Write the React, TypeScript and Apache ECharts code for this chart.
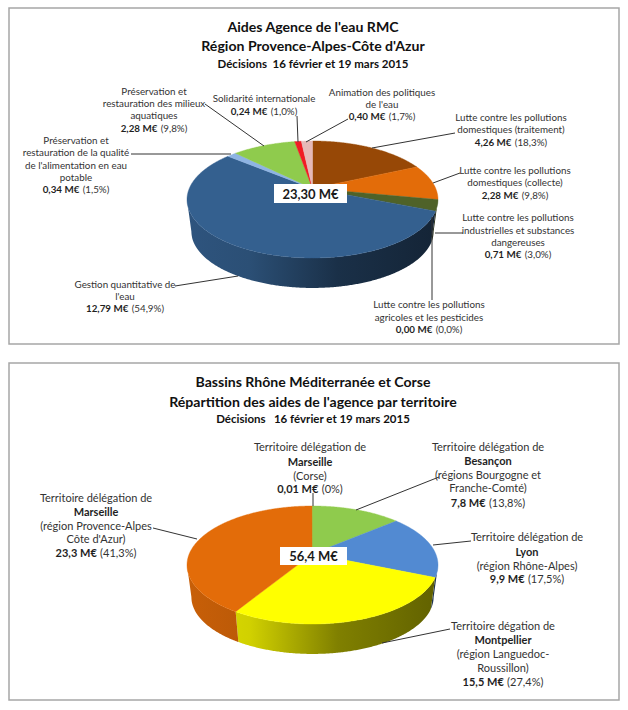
import React, { useEffect, useRef } from "react";
import * as echarts from "echarts";

const FONT = "Lato, 'Open Sans', sans-serif";

// ---- data ----
const aidCategories = [
  "Lutte contre les pollutions domestiques (traitement)",
  "Lutte contre les pollutions domestiques (collecte)",
  "Lutte contre les pollutions industrielles et substances dangereuses",
  "Lutte contre les pollutions agricoles et les pesticides",
  "Gestion quantitative de l'eau",
  "Préservation et restauration de la qualité de l'alimentation en eau potable",
  "Préservation et restauration des milieux aquatiques",
  "Solidarité internationale",
  "Animation des politiques de l'eau",
];
const aidValues = [4.26, 2.28, 0.71, 0.0, 12.79, 0.34, 2.28, 0.24, 0.4];
const aidAmounts = ["4,26 M€", "2,28 M€", "0,71 M€", "0,00 M€", "12,79 M€", "0,34 M€", "2,28 M€", "0,24 M€", "0,40 M€"];
const aidShares = ["(18,3%)", "(9,8%)", "(3,0%)", "(0,0%)", "(54,9%)", "(1,5%)", "(9,8%)", "(1,0%)", "(1,7%)"];
const aidTotal = "23,30 M€";

const territoryCategories = [
  "Besançon (régions Bourgogne et Franche-Comté)",
  "Lyon (région Rhône-Alpes)",
  "Montpellier (région Languedoc-Roussillon)",
  "Marseille (région Provence-Alpes Côte d'Azur)",
  "Marseille (Corse)",
];
const territoryValues = [7.8, 9.9, 15.5, 23.3, 0.01];
const territoryAmounts = ["7,8 M€", "9,9 M€", "15,5 M€", "23,3 M€", "0,01 M€"];
const territoryShares = ["(13,8%)", "(17,5%)", "(27,4%)", "(41,3%)", "(0%)"];
const territoryTotal = "56,4 M€";

// ---- styles & layout ----
const aidColors = ["#974806", "#e36c09", "#4f6228", "#7f7f7f", "#34608f", "#8eb4e3", "#8fcb4d", "#f01c24", "#e6b9b8"];
const territoryColors = ["#8fcb4d", "#528ad2", "#ffff00", "#e36c09", "#8fcb4d"];

const aidPie = { cx: 312.5, cy: 199.5, rx: 125.5, ry: 58.5, scale: 0.965, drop: 32 };
const territoryPie = { cx: 312.5, cy: 565, rx: 125.5, ry: 59, scale: 0.965, drop: 32 };
const PERSPECTIVE = 0.19;

type Line = { t?: string; b?: string; amount?: number };
type Block = { x: number; ys: number[]; lines: Line[]; leader: number[][] };

const aidBlocks: Block[] = [
  { x: 511, ys: [117, 129, 142], lines: [{ t: "Lutte contre les pollutions" }, { t: "domestiques (traitement)" }, { amount: 0 }], leader: [[455, 133], [372, 148]] },
  { x: 515, ys: [170, 182, 195], lines: [{ t: "Lutte contre les pollutions" }, { t: "domestiques (collecte)" }, { amount: 1 }], leader: [[460, 173], [433, 183]] },
  { x: 518, ys: [217, 230, 242, 254], lines: [{ t: "Lutte contre les pollutions" }, { t: "industrielles et substances" }, { t: "dangereuses" }, { amount: 2 }], leader: [[463, 233], [435, 233]] },
  { x: 429, ys: [304, 317, 329], lines: [{ t: "Lutte contre les pollutions" }, { t: "agricoles et les pesticides" }, { amount: 3 }], leader: [[432, 300], [432, 217]] },
  { x: 125, ys: [284, 296, 308], lines: [{ t: "Gestion quantitative de" }, { t: "l'eau" }, { amount: 4 }], leader: [[175, 286], [238, 276]] },
  { x: 76, ys: [140, 152, 165, 177, 189], lines: [{ t: "Préservation et" }, { t: "restauration de la qualité" }, { t: "de l'alimentation en eau" }, { t: "potable" }, { amount: 5 }], leader: [[131, 154], [231, 154]] },
  { x: 154, ys: [91, 103, 115, 128], lines: [{ t: "Préservation et" }, { t: "restauration des milieux" }, { t: "aquatiques" }, { amount: 6 }], leader: [[205, 104], [264, 146]] },
  { x: 264, ys: [98, 111], lines: [{ t: "Solidarité internationale" }, { amount: 7 }], leader: [[297, 116], [298, 142]] },
  { x: 382, ys: [92, 104, 116], lines: [{ t: "Animation des politiques" }, { t: "de l'eau" }, { amount: 8 }], leader: [[348, 119], [306, 142]] },
];

const territoryBlocks: Block[] = [
  { x: 488, ys: [446, 460, 474, 487, 502], lines: [{ t: "Territoire délégation de" }, { b: "Besançon" }, { t: "(régions Bourgogne et" }, { t: "Franche-Comté)" }, { amount: 0 }], leader: [[439, 477], [356, 510]] },
  { x: 527, ys: [536, 551, 565, 578], lines: [{ t: "Territoire délégation de" }, { b: "Lyon" }, { t: "(région Rhône-Alpes)" }, { amount: 1 }], leader: [[471, 541], [433, 545]] },
  { x: 503, ys: [625, 639, 653, 667, 681], lines: [{ t: "Territoire dégation de" }, { b: "Montpellier" }, { t: "(région Languedoc-" }, { t: "Roussillon)" }, { amount: 2 }], leader: [[450, 629], [382, 643]] },
  { x: 96, ys: [497, 511, 525, 538, 552], lines: [{ t: "Territoire délégation de" }, { b: "Marseille" }, { t: "(région Provence-Alpes" }, { t: "Côte d'Azur)" }, { amount: 3 }], leader: [[153, 528], [197, 539]] },
  { x: 310, ys: [446, 461, 475, 488], lines: [{ t: "Territoire délégation de" }, { b: "Marseille" }, { t: "(Corse)" }, { amount: 4 }], leader: [[313, 493], [313, 506]] },
];

function shade(hex: string, f: number) {
  const n = parseInt(hex.slice(1), 16);
  const c = [(n >> 16) & 255, (n >> 8) & 255, n & 255].map((v) => Math.round(v * f));
  return `rgb(${c[0]},${c[1]},${c[2]})`;
}

function rimPoint(p: typeof aidPie, deg: number) {
  const a = (deg * Math.PI) / 180;
  const u = Math.sin(a);
  const v = -Math.cos(a);
  const w = 1 - PERSPECTIVE * v;
  const k2 = 1 - PERSPECTIVE * PERSPECTIVE;
  return [p.cx + (u / w) * p.rx * Math.sqrt(k2), p.cy - PERSPECTIVE * p.ry + (v / w) * p.ry * k2];
}

function sliceRange(values: number[], index: number) {
  const total = values.reduce((s, v) => s + v, 0);
  const before = values.slice(0, index).reduce((s, v) => s + v, 0);
  return [(before / total) * 360, ((before + values[index]) / total) * 360];
}

function arcPoints(p: typeof aidPie, from: number, to: number) {
  const pts: number[][] = [];
  const n = Math.max(2, Math.ceil((to - from) / 0.5));
  for (let i = 0; i <= n; i++) pts.push(rimPoint(p, from + ((to - from) * i) / n));
  return pts;
}

function pieSeries(values: number[], colors: string[], pie: typeof aidPie) {
  const data = values.map((v) => [v]);
  const wall = {
    type: "custom",
    coordinateSystem: "none",
    silent: true,
    z: 1,
    data,
    renderItem: (params: any, api: any) => {
      const i = params.dataIndex;
      if (!(api.value(0) > 0)) return null;
      const [a, b] = sliceRange(values, i);
      const front = arcPoints(pie, a, b).filter((q) => q[1] >= pie.cy);
      if (front.length < 2) return null;
      const back = front
        .map((q) => [pie.cx + (q[0] - pie.cx) * pie.scale, pie.cy + (q[1] - pie.cy) * pie.scale + pie.drop])
        .reverse();
      const col = colors[i];
      return {
        type: "polygon",
        shape: { points: front.concat(back) },
        style: {
          fill: new echarts.graphic.LinearGradient(pie.cx - pie.rx, 0, pie.cx + pie.rx, 0, [
            { offset: 0, color: shade(col, 0.88) },
            { offset: 0.25, color: shade(col, 0.82) },
            { offset: 0.6, color: shade(col, 0.5) },
            { offset: 1, color: shade(col, 0.38) },
          ], true),
          stroke: null,
        },
      };
    },
  };
  const top = {
    type: "custom",
    coordinateSystem: "none",
    silent: true,
    z: 2,
    data,
    renderItem: (params: any, api: any) => {
      const i = params.dataIndex;
      if (!(api.value(0) > 0)) return null;
      const [a, b] = sliceRange(values, i);
      const pivot = [pie.cx, pie.cy - PERSPECTIVE * pie.ry];
      return {
        type: "polygon",
        shape: { points: [pivot].concat(arcPoints(pie, a, b)) },
        style: { fill: colors[i], stroke: colors[i], lineWidth: 0.4 },
      };
    },
  };
  return [wall, top];
}

function blockGraphics(blocks: Block[], amounts: string[], shares: string[], size: number) {
  const out: any[] = [];
  blocks.forEach((block) => {
    block.lines.forEach((line, j) => {
      const base = {
        type: "text",
        z: 20,
        silent: true,
        x: block.x,
        y: block.ys[j],
      };
      if (line.amount !== undefined) {
        out.push({
          ...base,
          style: {
            text: `{b|${amounts[line.amount]}} {n|${shares[line.amount]}}`,
            textAlign: "center",
            textVerticalAlign: "middle",
            rich: {
              b: { fontFamily: FONT, fontSize: size, fontWeight: "bold", fill: "#1f1f1f", color: "#1f1f1f" },
              n: { fontFamily: FONT, fontSize: size, fill: "#333", color: "#333" },
            },
          },
        });
      } else {
        out.push({
          ...base,
          style: {
            text: line.t ?? line.b,
            textAlign: "center",
            textVerticalAlign: "middle",
            fontFamily: FONT,
            fontSize: size,
            fontWeight: line.b ? "bold" : "normal",
            fill: line.b ? "#1f1f1f" : "#333",
          },
        });
      }
    });
    out.push({
      type: "polyline",
      z: 5,
      silent: true,
      shape: { points: block.leader },
      style: { stroke: "#333", lineWidth: 1, fill: null },
    });
  });
  return out;
}

const frames = [
  { x: 9, y: 8, width: 610, height: 336 },
  { x: 9, y: 363, width: 610, height: 337 },
];
const totalBoxes = [
  { x: 274, y: 184, width: 73, height: 19, cx: 310.5, cy: 194, text: aidTotal },
  { x: 280, y: 547, width: 67, height: 18, cx: 313.5, cy: 555.5, text: territoryTotal },
];
const titles = [
  { text: "Aides Agence de l'eau RMC", y: 27, size: 14.1 },
  { text: "Région Provence-Alpes-Côte d'Azur", y: 46, size: 14.1 },
  { text: "Décisions  16 février et 19 mars 2015", y: 63, size: 11.5 },
  { text: "Bassins Rhône Méditerranée et Corse", y: 382, size: 14.1 },
  { text: "Répartition des aides de l'agence par territoire", y: 402, size: 14.1 },
  { text: "Décisions   16 février et 19 mars 2015", y: 418, size: 11.5 },
];

export default function App() {
  const ref = useRef<HTMLDivElement>(null);
  useEffect(() => {
    document.body.style.margin = "0";
    document.body.style.background = "#fff";
    const chart = echarts.init(ref.current!, undefined, { renderer: "svg" });
    chart.setOption({
      animation: false,
      backgroundColor: "#ffffff",
      title: titles.map((t) => ({
        text: t.text,
        left: 313,
        top: t.y - t.size / 2,
        padding: 0,
        textAlign: "center",
        textStyle: { fontFamily: FONT, fontSize: t.size, fontWeight: "bold", color: "#111" },
      })),
      series: [
        ...pieSeries(aidValues, aidColors, aidPie),
        ...pieSeries(territoryValues, territoryColors, territoryPie),
      ],
      graphic: [
        ...frames.map((f) => ({
          type: "rect",
          z: 0,
          silent: true,
          shape: { x: f.x, y: f.y, width: f.width, height: f.height },
          style: { fill: "#fff", stroke: "#a6a6a6", lineWidth: 1.5 },
        })),
        ...blockGraphics(aidBlocks, aidAmounts, aidShares, 9.8),
        ...blockGraphics(territoryBlocks, territoryAmounts, territoryShares, 11),
        ...totalBoxes.flatMap((b) => [
          {
            type: "rect",
            z: 10,
            silent: true,
            shape: { x: b.x, y: b.y, width: b.width, height: b.height },
            style: { fill: "#fff" },
          },
          {
            type: "text",
            z: 11,
            silent: true,
            x: b.cx,
            y: b.cy,
            style: {
              text: b.text,
              textAlign: "center",
              textVerticalAlign: "middle",
              fontFamily: FONT,
              fontSize: 13,
              fontWeight: "bold",
              fill: "#1a1a1a",
            },
          },
        ]),
      ],
    });
    return () => chart.dispose();
  }, []);
  return <div ref={ref} style={{ width: 628, height: 710 }} />;
}
